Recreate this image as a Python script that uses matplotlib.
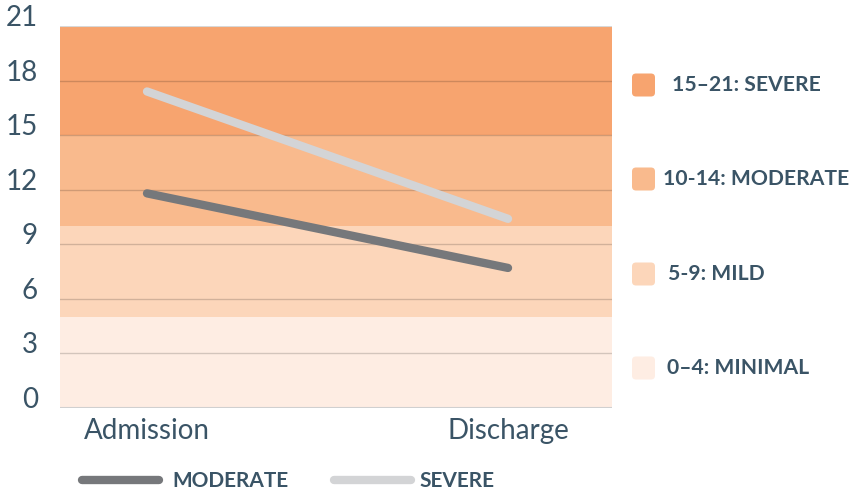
import matplotlib
matplotlib.use("Agg")
import matplotlib.pyplot as plt
from matplotlib.patches import FancyBboxPatch
from matplotlib.lines import Line2D

# ---- data ----
categories = ["Admission", "Discharge"]
moderate = [11.8, 7.7]
severe = [17.4, 10.4]
band_lower = [0, 5, 10, 15]
band_upper = [5, 10, 15, 21]
band_labels = ["0–4: MINIMAL", "5-9: MILD", "10-14: MODERATE", "15–21: SEVERE"]
yticks = [0, 3, 6, 9, 12, 15, 18, 21]

band_colors = ["#FEEDE3", "#FCD6BA", "#F9BA8D", "#F7A46F"]
text_color = "#3A5466"
mod_color = "#76787B"
sev_color = "#D3D4D6"

plt.rcParams["font.family"] = ["Lato", "DejaVu Sans"]

W, H = 850, 492
fig = plt.figure(figsize=(W / 100, H / 100), dpi=100)
ax = fig.add_axes([60 / W, (H - 408) / H, (612 - 60) / W, (408 - 26) / H])

x = list(range(len(categories)))
ax.set_xlim(-0.241, 1.288)
ax.set_ylim(0, 21)

for lo, hi, c in zip(band_lower, band_upper, band_colors):
    ax.axhspan(lo, hi, color=c, lw=0, zorder=0)

for t in yticks[1:-1]:
    ax.axhline(t, color="black", alpha=0.17, lw=1, zorder=1)
ax.axhline(0, color="#D0D0D0", lw=1.5, zorder=1)
ax.axhline(21, color="#D8D8D8", lw=1.5, zorder=1)

ax.plot(x, moderate, color=mod_color, lw=6, solid_capstyle="round", zorder=3)
ax.plot(x, severe, color=sev_color, lw=6, solid_capstyle="round", zorder=3)

for s in ax.spines.values():
    s.set_visible(False)
ax.set_yticks(yticks)
ax.set_yticklabels([str(t) for t in yticks])
ax.set_xticks(x)
ax.set_xticklabels(categories)
ax.tick_params(axis="both", length=0, labelsize=20, labelcolor=text_color)
ax.tick_params(axis="y", pad=16)
ax.tick_params(axis="x", pad=7)
for lab in ax.get_yticklabels():
    lab.set_verticalalignment("baseline")

# right legend (bands)
tr = fig.dpi_scale_trans
sq = 23
centers = [368, 274, 179, 85]
text_x = [667, 668, 663, 672]
for lab, c, cy, tx in zip(band_labels, band_colors, centers, text_x):
    p = FancyBboxPatch(((632) / 100, (H - cy - sq / 2) / 100), sq / 100, sq / 100,
                       boxstyle="round,pad=0,rounding_size=0.04",
                       transform=tr, facecolor=c, edgecolor="none")
    fig.add_artist(p)
    fig.text(tx / 100, (H - cy) / 100, lab, transform=tr, fontsize=15.2,
             fontweight="bold", color=text_color, va="center", ha="left")

# bottom legend (series)
ly = 480
for (x0, x1, tx, c, lab) in [(82, 159, 172, mod_color, "MODERATE"),
                              (334, 411, 419, sev_color, "SEVERE")]:
    fig.add_artist(Line2D([x0 / 100, x1 / 100], [(H - ly) / 100, (H - ly) / 100],
                          transform=tr, color=c, lw=6, solid_capstyle="round"))
    fig.text(tx / 100, (H - ly - 1) / 100, lab, transform=tr, fontsize=15,
             fontweight="bold", color=text_color, va="center", ha="left")

fig.savefig("out.png", dpi=100)
